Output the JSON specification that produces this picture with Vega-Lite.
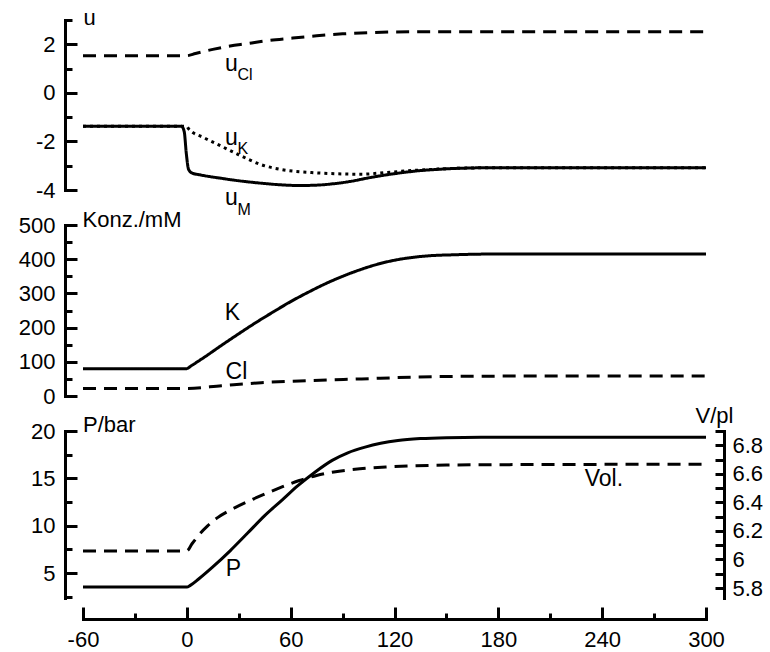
{
  "$schema": "https://vega.github.io/schema/vega-lite/v6.json",
  "background": "white",
  "padding": {"left": 18, "top": 6, "right": 5, "bottom": 5},
  "bounds": "flush",
  "spacing": 35,
  "resolve": {"scale": {"x": "independent", "y": "independent", "strokeDash": "independent"}},
  "config": {
    "view": {"stroke": null},
    "axis": {
      "domainColor": "black", "domainWidth": 3, "domainCap": "square",
      "ticks": true, "tickColor": "black", "tickWidth": 3,
      "labelColor": "black", "labelFont": "Liberation Sans", "labelFontSize": 22,
      "titleFont": "Liberation Sans", "titleFontSize": 22, "titleFontWeight": "normal", "titleColor": "black",
      "grid": false, "labelOverlap": false, "labelFlush": false, "labelBound": false
    }
  },
  "datasets": {
    "u": [
      {"series": "Cl", "t": -60, "v": 1.53}, {"series": "Cl", "t": 0, "v": 1.53}, {"series": "Cl", "t": 5, "v": 1.62},
      {"series": "Cl", "t": 10, "v": 1.71}, {"series": "Cl", "t": 15, "v": 1.79}, {"series": "Cl", "t": 25, "v": 1.93},
      {"series": "Cl", "t": 35, "v": 2.03}, {"series": "Cl", "t": 45, "v": 2.14}, {"series": "Cl", "t": 60, "v": 2.25},
      {"series": "Cl", "t": 75, "v": 2.35}, {"series": "Cl", "t": 90, "v": 2.43}, {"series": "Cl", "t": 105, "v": 2.48},
      {"series": "Cl", "t": 120, "v": 2.51}, {"series": "Cl", "t": 150, "v": 2.52}, {"series": "Cl", "t": 300, "v": 2.52},
      {"series": "K", "t": -60, "v": -1.38}, {"series": "K", "t": 0, "v": -1.38}, {"series": "K", "t": 1, "v": -1.48},
      {"series": "K", "t": 10, "v": -1.85}, {"series": "K", "t": 20, "v": -2.2}, {"series": "K", "t": 30, "v": -2.55},
      {"series": "K", "t": 43, "v": -2.96}, {"series": "K", "t": 55, "v": -3.16}, {"series": "K", "t": 72, "v": -3.28},
      {"series": "K", "t": 90, "v": -3.34}, {"series": "K", "t": 101, "v": -3.35}, {"series": "K", "t": 115, "v": -3.28},
      {"series": "K", "t": 130, "v": -3.2}, {"series": "K", "t": 145, "v": -3.14}, {"series": "K", "t": 160, "v": -3.1},
      {"series": "K", "t": 180, "v": -3.08}, {"series": "K", "t": 300, "v": -3.08},
      {"series": "M", "t": -60, "v": -1.38}, {"series": "M", "t": -3, "v": -1.38}, {"series": "M", "t": -1.5, "v": -1.6},
      {"series": "M", "t": -0.3, "v": -2.5}, {"series": "M", "t": 1, "v": -3.15}, {"series": "M", "t": 3, "v": -3.3},
      {"series": "M", "t": 8, "v": -3.38}, {"series": "M", "t": 20, "v": -3.52}, {"series": "M", "t": 30, "v": -3.62},
      {"series": "M", "t": 43, "v": -3.72}, {"series": "M", "t": 55, "v": -3.79}, {"series": "M", "t": 65, "v": -3.815},
      {"series": "M", "t": 75, "v": -3.8}, {"series": "M", "t": 85, "v": -3.74}, {"series": "M", "t": 95, "v": -3.64},
      {"series": "M", "t": 105, "v": -3.5}, {"series": "M", "t": 115, "v": -3.38}, {"series": "M", "t": 125, "v": -3.28},
      {"series": "M", "t": 135, "v": -3.2}, {"series": "M", "t": 145, "v": -3.15}, {"series": "M", "t": 160, "v": -3.1},
      {"series": "M", "t": 180, "v": -3.08}, {"series": "M", "t": 300, "v": -3.08}
    ],
    "konz": [
      {"series": "K", "t": -60, "c": 80}, {"series": "K", "t": 0, "c": 80}, {"series": "K", "t": 2, "c": 86.5},
      {"series": "K", "t": 10, "c": 113}, {"series": "K", "t": 20, "c": 148}, {"series": "K", "t": 30, "c": 182},
      {"series": "K", "t": 40, "c": 215}, {"series": "K", "t": 50, "c": 246}, {"series": "K", "t": 60, "c": 276},
      {"series": "K", "t": 70, "c": 303}, {"series": "K", "t": 80, "c": 328}, {"series": "K", "t": 90, "c": 350},
      {"series": "K", "t": 100, "c": 369}, {"series": "K", "t": 110, "c": 385}, {"series": "K", "t": 120, "c": 397},
      {"series": "K", "t": 130, "c": 405}, {"series": "K", "t": 140, "c": 410}, {"series": "K", "t": 155, "c": 413},
      {"series": "K", "t": 175, "c": 415}, {"series": "K", "t": 300, "c": 415},
      {"series": "Cl", "t": -60, "c": 22}, {"series": "Cl", "t": 0, "c": 22}, {"series": "Cl", "t": 20, "c": 30},
      {"series": "Cl", "t": 43, "c": 39}, {"series": "Cl", "t": 70, "c": 45}, {"series": "Cl", "t": 101, "c": 50},
      {"series": "Cl", "t": 130, "c": 55}, {"series": "Cl", "t": 160, "c": 57.5}, {"series": "Cl", "t": 200, "c": 58.3},
      {"series": "Cl", "t": 300, "c": 58.5}
    ],
    "press": [
      {"t": -60, "p": 3.52}, {"t": 0, "p": 3.52}, {"t": 2, "p": 3.7}, {"t": 7, "p": 4.4}, {"t": 15, "p": 5.65},
      {"t": 25, "p": 7.35}, {"t": 35, "p": 9.2}, {"t": 45, "p": 11.07}, {"t": 55, "p": 12.7}, {"t": 64, "p": 14.2},
      {"t": 74, "p": 15.65}, {"t": 84, "p": 16.9}, {"t": 93, "p": 17.7}, {"t": 103, "p": 18.3}, {"t": 112, "p": 18.7},
      {"t": 122, "p": 19.0}, {"t": 135, "p": 19.2}, {"t": 150, "p": 19.3}, {"t": 170, "p": 19.34}, {"t": 300, "p": 19.35}
    ],
    "vol": [
      {"t": -60, "vol": 6.06}, {"t": 0, "vol": 6.06}, {"t": 3, "vol": 6.11}, {"t": 6.5, "vol": 6.165},
      {"t": 12, "vol": 6.235}, {"t": 18, "vol": 6.295}, {"t": 25, "vol": 6.345}, {"t": 35, "vol": 6.405},
      {"t": 45, "vol": 6.458}, {"t": 55, "vol": 6.508}, {"t": 65, "vol": 6.553}, {"t": 75, "vol": 6.588},
      {"t": 85, "vol": 6.613}, {"t": 100, "vol": 6.635}, {"t": 115, "vol": 6.648}, {"t": 130, "vol": 6.656},
      {"t": 150, "vol": 6.661}, {"t": 200, "vol": 6.665}, {"t": 300, "vol": 6.667}
    ],
    "notes": [
      {"panel": "u", "t": 22, "v": 0.89, "text": "u"},
      {"panel": "u", "t": 22, "v": -2.14, "text": "u"},
      {"panel": "u", "t": 22, "v": -4.62, "text": "u"},
      {"panel": "konz", "t": 21.9, "v": 223.6, "text": "K"},
      {"panel": "konz", "t": 22.4, "v": 50.7, "text": "Cl"},
      {"panel": "p", "t": 22.5, "v": 4.65, "text": "P"},
      {"panel": "p", "t": 229.9, "v": 14.24, "text": "Vol."}
    ],
    "subs": [
      {"panel": "u", "t": 29.3, "v": 0.51, "text": "Cl"},
      {"panel": "u", "t": 29.3, "v": -2.51, "text": "K"},
      {"panel": "u", "t": 29.3, "v": -5.03, "text": "M"}
    ]
  },
  "vconcat": [
    {
      "width": 623, "height": 170,
      "resolve": {"axis": {"y": "independent"}},
      "layer": [
        {
          "data": {"name": "u"},
          "mark": {"type": "line", "strokeWidth": 3, "color": "black", "interpolate": "monotone"},
          "encoding": {
            "x": {"field": "t", "type": "quantitative", "scale": {"domain": [-60, 300], "nice": false, "zero": false}, "axis": null},
            "y": {"field": "v", "type": "quantitative", "scale": {"domain": [-4, 3], "nice": false, "zero": false},
              "axis": {"orient": "left", "values": [-4, -2, 0, 2], "offset": 18, "tickSize": -12, "labelOverlap": false,
                "labelExpr": "'' + datum.value", "labelPadding": 22,
                "title": "u", "titleAngle": 0, "titleAlign": "left", "titleBaseline": "alphabetic", "titleX": 18, "titleY": 4}},
            "strokeDash": {"field": "series", "type": "nominal", "scale": {"domain": ["Cl", "K", "M"], "range": [[13, 8], [3, 4], [1, 0]]}, "legend": null}
          }
        },
        {
          "data": {"name": "notes"},
          "transform": [{"filter": "datum.panel === 'u'"}],
          "mark": {"type": "text", "align": "left", "baseline": "alphabetic", "font": "Liberation Sans", "fontSize": 23, "color": "black"},
          "encoding": {
            "x": {"field": "t", "type": "quantitative", "scale": {"domain": [-60, 300], "nice": false, "zero": false}},
            "y": {"field": "v", "type": "quantitative", "scale": {"domain": [-4, 3], "nice": false, "zero": false},
              "axis": {"orient": "left", "values": [-3, -1, 1, 3], "offset": 18, "tickSize": -7, "labels": false, "domain": false, "title": null}},
            "text": {"field": "text"}
          }
        },
        {
          "data": {"name": "subs"},
          "transform": [{"filter": "datum.panel === 'u'"}],
          "mark": {"type": "text", "align": "left", "baseline": "alphabetic", "font": "Liberation Sans", "fontSize": 16, "color": "black"},
          "encoding": {
            "x": {"field": "t", "type": "quantitative", "scale": {"domain": [-60, 300], "nice": false, "zero": false}},
            "y": {"field": "v", "type": "quantitative", "scale": {"domain": [-4, 3], "nice": false, "zero": false}, "axis": null},
            "text": {"field": "text"}
          }
        }
      ]
    },
    {
      "width": 623, "height": 171,
      "resolve": {"axis": {"y": "independent"}},
      "layer": [
        {
          "data": {"name": "konz"},
          "mark": {"type": "line", "strokeWidth": 3, "color": "black", "interpolate": "monotone"},
          "encoding": {
            "x": {"field": "t", "type": "quantitative", "scale": {"domain": [-60, 300], "nice": false, "zero": false}, "axis": null},
            "y": {"field": "c", "type": "quantitative", "scale": {"domain": [0, 500], "nice": false},
              "axis": {"orient": "left", "values": [0, 100, 200, 300, 400, 500], "offset": 18, "tickSize": -12, "labelOverlap": false,
                "labelExpr": "'' + datum.value", "labelPadding": 22,
                "title": "Konz./mM", "titleAngle": 0, "titleAlign": "left", "titleBaseline": "alphabetic", "titleX": 17, "titleY": 1.5}},
            "strokeDash": {"field": "series", "type": "nominal", "scale": {"domain": ["Cl", "K"], "range": [[13, 8], [1, 0]]}, "legend": null}
          }
        },
        {
          "data": {"name": "notes"},
          "transform": [{"filter": "datum.panel === 'konz'"}],
          "mark": {"type": "text", "align": "left", "baseline": "alphabetic", "font": "Liberation Sans", "fontSize": 23, "color": "black"},
          "encoding": {
            "x": {"field": "t", "type": "quantitative", "scale": {"domain": [-60, 300], "nice": false, "zero": false}},
            "y": {"field": "v", "type": "quantitative", "scale": {"domain": [0, 500], "nice": false},
              "axis": {"orient": "left", "values": [50, 150, 250, 350, 450], "offset": 18, "tickSize": -7, "labels": false, "domain": false, "title": null}},
            "text": {"field": "text"}
          }
        }
      ]
    },
    {
      "width": 623, "height": 167,
      "resolve": {"scale": {"y": "independent"}, "axis": {"x": "independent"}},
      "layer": [
        {
          "data": {"name": "press"},
          "mark": {"type": "line", "strokeWidth": 3, "color": "black", "interpolate": "monotone"},
          "encoding": {
            "x": {"field": "t", "type": "quantitative", "scale": {"domain": [-60, 300], "nice": false, "zero": false},
              "axis": {"orient": "bottom", "values": [-60, 0, 60, 120, 180, 240, 300], "offset": 21, "tickSize": -12, "labelOverlap": false,
                "labelExpr": "'' + datum.value", "labelPadding": 22, "title": null}},
            "y": {"field": "p", "type": "quantitative", "scale": {"domain": [2.37, 20], "nice": false, "zero": false},
              "axis": {"orient": "left", "values": [5, 10, 15, 20], "offset": 18, "tickSize": -12, "labelOverlap": false,
                "labelExpr": "'' + datum.value", "labelPadding": 22,
                "title": "P/bar", "titleAngle": 0, "titleAlign": "left", "titleBaseline": "alphabetic", "titleX": 17.5, "titleY": 0.5}}
          }
        },
        {
          "data": {"name": "notes"},
          "transform": [{"filter": "datum.panel === 'p'"}],
          "mark": {"type": "text", "align": "left", "baseline": "alphabetic", "font": "Liberation Sans", "fontSize": 23, "color": "black"},
          "encoding": {
            "x": {"field": "t", "type": "quantitative", "scale": {"domain": [-60, 300], "nice": false, "zero": false},
              "axis": {"orient": "bottom", "values": [-30, 30, 90, 150, 210, 270], "offset": 21, "tickSize": -6, "labels": false, "domain": false, "title": null}},
            "y": {"field": "v", "type": "quantitative", "scale": {"domain": [2.37, 20], "nice": false, "zero": false},
              "axis": {"orient": "left", "values": [2.5, 7.5, 12.5, 17.5], "offset": 18, "tickSize": -7, "labels": false, "domain": false, "title": null}},
            "text": {"field": "text"}
          }
        },
        {
          "data": {"name": "vol"},
          "mark": {"type": "line", "strokeWidth": 3, "color": "black", "interpolate": "monotone", "strokeDash": [13, 8]},
          "encoding": {
            "x": {"field": "t", "type": "quantitative", "scale": {"domain": [-60, 300], "nice": false, "zero": false}, "axis": null},
            "y": {"field": "vol", "type": "quantitative", "scale": {"domain": [5.73, 6.9], "nice": false, "zero": false},
              "axis": {"orient": "right", "values": [5.8, 5.9, 6, 6.1, 6.2, 6.3, 6.4, 6.5, 6.6, 6.7, 6.8, 6.9], "offset": 18,
                "tickSize": -9, "labelOverlap": false,
                "labelExpr": "round(datum.value * 10) % 2 === 0 ? '' + datum.value : ''", "labelPadding": 17,
                "title": "V/pl", "titleAngle": 0, "titleAlign": "right", "titleBaseline": "alphabetic", "titleX": 9, "titleY": -8.5}}
          }
        }
      ]
    }
  ]
}
